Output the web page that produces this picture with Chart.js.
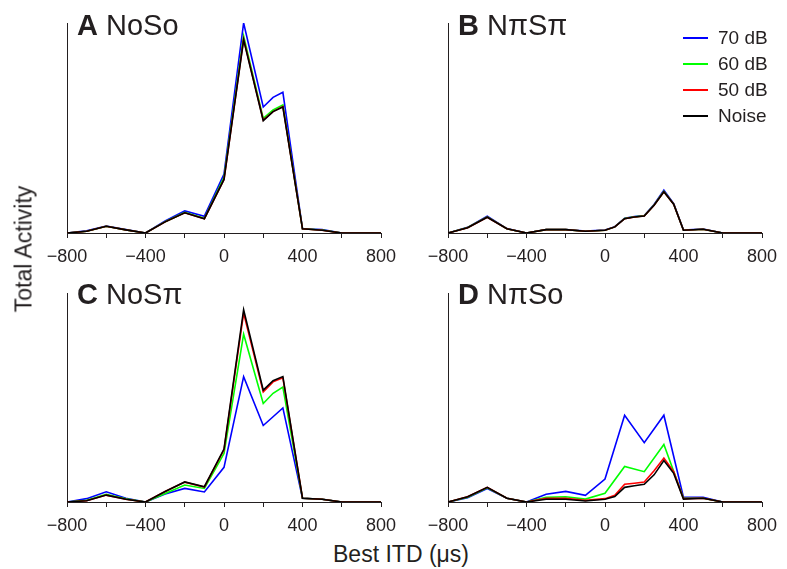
<!DOCTYPE html>
<html>
<head>
<meta charset="utf-8">
<script src="https://cdn.jsdelivr.net/npm/chart.js@4/dist/chart.umd.min.js"></script>
<style>
    body { margin: 0; background: #fff; }
    #wrap { position: relative; width: 787px; height: 569px; overflow: hidden; font-family: "Liberation Sans", Arial, sans-serif; color: #231f20; }
    .panel { position: absolute; }
    .title { position: absolute; font-size: 29px; line-height: 1; white-space: nowrap; }
    .title b { font-weight: bold; }
    .legend { position: absolute; left: 683px; top: 25px; font-size: 19px; }
    .legend div { position: relative; height: 26px; line-height: 26px; padding-left: 35px; }
    .legend span { position: absolute; left: 0; top: 12px; width: 25px; height: 2px; }
    .ylabel { position: absolute; left: 24px; top: 249px; font-size: 23px; white-space: nowrap; transform: translate(-50%, -50%) rotate(-90deg); }
    .xlabel { position: absolute; left: 401px; top: 541px; font-size: 23px; white-space: nowrap; transform: translateX(-50%); }
</style>
</head>
<body>
<div id="wrap">
    <canvas id="chart-a" class="panel" style="left:30px;top:0px" width="380" height="270"></canvas>
    <canvas id="chart-b" class="panel" style="left:410px;top:0px" width="377" height="270"></canvas>
    <canvas id="chart-c" class="panel" style="left:30px;top:269px" width="380" height="270"></canvas>
    <canvas id="chart-d" class="panel" style="left:410px;top:269px" width="377" height="270"></canvas>

    <div class="title" style="left:77px;top:11px"><b>A</b> NoSo</div>
    <div class="title" style="left:458px;top:11px"><b>B</b> NπSπ</div>
    <div class="title" style="left:77px;top:280px"><b>C</b> NoSπ</div>
    <div class="title" style="left:458px;top:280px"><b>D</b> NπSo</div>

    <div class="legend">
        <div><span style="background:#0000ff"></span>70 dB</div>
        <div><span style="background:#00ff00"></span>60 dB</div>
        <div><span style="background:#ff0000"></span>50 dB</div>
        <div><span style="background:#000000"></span>Noise</div>
    </div>

    <div class="ylabel">Total Activity</div>
    <div class="xlabel">Best ITD (μs)</div>
</div>

<script>
// Best ITD (µs); null = no sample at that ITD for that curve
const ITD = [-800, -700, -600, -500, -400, -300, -200, -100, 0, 50, 100, 150, 200, 250, 300, 350, 400, 500, 600, 700, 800];
const X_TICKS = [-800, -400, 0, 400, 800];

// Total activity, % of axis height
const A_70 = [0, 1, 3.3, 1.6, 0, 5.7, 10.5, 8, 28, null, 100, null, 60, 64.6, 67, null, 2, 1.6, 0, 0, 0];
const A_60 = [0, 0.8, 3.2, 1.5, 0, 5.4, 9.8, 7, 26.5, null, 93.8, null, 54.6, 58.6, 61, null, 2, 1.4, 0, 0, 0];
const A_50 = [0, 0.8, 3.2, 1.5, 0, 5.3, 9.6, 6.8, 25.5, null, 92.4, null, 53.8, 57.8, 60.3, null, 2, 1.3, 0, 0, 0];
const A_NOISE = [0, 0.8, 3.2, 1.5, 0, 5.3, 9.6, 6.8, 25.5, null, 92, null, 53.5, 57.8, 60, null, 2, 1.3, 0, 0, 0];

const B_70 = [0, 2.7, 8, 2.1, 0, 1.7, 1.7, 0.9, 1.4, 3, 7, 7.8, 8.3, 13.6, 20.4, 14, 1.4, 1.9, 0, 0, 0];
const B_60 = [0, 2.6, 7.7, 2, 0, 1.6, 1.6, 0.8, 1.3, 2.9, 6.9, 7.7, 8.2, 13.3, 19.8, 13.8, 1.3, 1.8, 0, 0, 0];
const B_50 = [0, 2.5, 7.5, 2, 0, 1.6, 1.6, 0.8, 1.3, 2.9, 6.8, 7.6, 8.1, 13.2, 19.6, 13.7, 1.3, 1.8, 0, 0, 0];
const B_NOISE = [0, 2.5, 7.5, 2, 0, 1.6, 1.6, 0.8, 1.3, 2.9, 6.8, 7.6, 8.1, 13.2, 19.6, 13.7, 1.3, 1.8, 0, 0, 0];

const C_70 = [0, 1.6, 4.9, 1.8, 0, 3.8, 6.5, 4.8, 16.6, null, 60, null, 36.6, 40.8, 45, null, 1.8, 1.3, 0, 0, 0];
const C_60 = [0, 0.8, 3.7, 1.5, 0, 4.1, 8.1, 6.5, 23.2, null, 80.3, null, 47.1, 52, 55, null, 1.8, 1.3, 0, 0, 0];
const C_50 = [0, 0.6, 3.3, 1.3, 0, 5, 9.5, 7.2, 25, null, 90.4, null, 52.7, 57.5, 59.4, null, 1.8, 1.3, 0, 0, 0];
const C_NOISE = [0, 0.6, 3.3, 1.3, 0, 5, 9.6, 7.3, 25.3, null, 92, null, 53.5, 58, 60, null, 1.8, 1.3, 0, 0, 0];

const D_70 = [0, 2, 6.4, 1.8, 0, 3.7, 5.1, 3.2, 11, null, 41.5, null, 28.4, null, 41.5, null, 2.2, 2.2, 0, 0, 0];
const D_60 = [0, 2.3, 6.8, 1.8, 0, 2.2, 2.5, 1.4, 4.2, null, 17, null, 14.5, null, 27.5, null, 1.8, 1.8, 0, 0, 0];
const D_50 = [0, 2.5, 7, 1.8, 0, 1.8, 1.8, 0.8, 1.6, 3.2, 8.5, 9, 9.6, 15, 21, 14.5, 1.6, 1.8, 0, 0, 0];
const D_NOISE = [0, 2.5, 7, 1.8, 0, 1.3, 1.3, 0.5, 1.3, 2.6, 7, 7.8, 8.5, 13, 19.8, 13.7, 1.4, 1.8, 0, 0, 0];

const COLORS = { db70: '#0000ff', db60: '#00ff00', db50: '#ff0000', noise: '#000000' };
const INK = '#231f20';

function series(values, color) {
    return {
        data: ITD.map((x, i) => values[i] === null ? null : { x, y: values[i] }).filter(p => p),
        borderColor: color,
        borderWidth: 1.6,
        pointRadius: 0,
        tension: 0,
        fill: false,
    };
}

// box = canvas-relative plot area
function drawPanel(id, sets, box) {
    const canvas = document.getElementById(id);
    new Chart(canvas, {
        type: 'line',
        data: {
            // first dataset is painted last -> noise on top
            datasets: [
                series(sets[3], COLORS.noise),
                series(sets[2], COLORS.db50),
                series(sets[1], COLORS.db60),
                series(sets[0], COLORS.db70),
            ]
        },
        options: {
            responsive: false,
            animation: false,
            layout: { padding: { top: box.top, right: canvas.width - box.right, left: 0, bottom: 0 } },
            plugins: { legend: { display: false }, tooltip: { enabled: false } },
            scales: {
                x: {
                    type: 'linear',
                    min: -800,
                    max: 800,
                    afterFit: s => { s.height = canvas.height - box.bottom; },
                    afterBuildTicks: s => {
                        s.ticks = [];
                        for (let v = -800; v <= 800; v += 200) s.ticks.push({ value: v });
                    },
                    grid: { display: true, drawOnChartArea: false, drawTicks: true, tickLength: 5, color: INK, lineWidth: 1 },
                    border: { display: true, color: INK, width: 1 },
                    ticks: {
                        padding: 8,
                        maxRotation: 0,
                        autoSkip: false,
                        color: INK,
                        font: { family: '"Liberation Sans", Arial, sans-serif', size: 18 },
                        callback: v => X_TICKS.includes(v) ? (v < 0 ? '\u2212' + Math.abs(v) : String(v)) : '',
                    }
                },
                y: {
                    min: 0,
                    max: 100,
                    afterFit: s => { s.width = box.left; },
                    grid: { display: false },
                    border: { display: true, color: INK, width: 1 },
                    ticks: { display: false },
                }
            }
        }
    });
}

drawPanel('chart-a', [A_70, A_60, A_50, A_NOISE], { left: 37, right: 351, top: 23, bottom: 233 });
drawPanel('chart-b', [B_70, B_60, B_50, B_NOISE], { left: 38, right: 352, top: 23, bottom: 233 });
drawPanel('chart-c', [C_70, C_60, C_50, C_NOISE], { left: 37, right: 351, top: 24, bottom: 233 });
drawPanel('chart-d', [D_70, D_60, D_50, D_NOISE], { left: 38, right: 352, top: 24, bottom: 233 });
</script>
</body>
</html>
